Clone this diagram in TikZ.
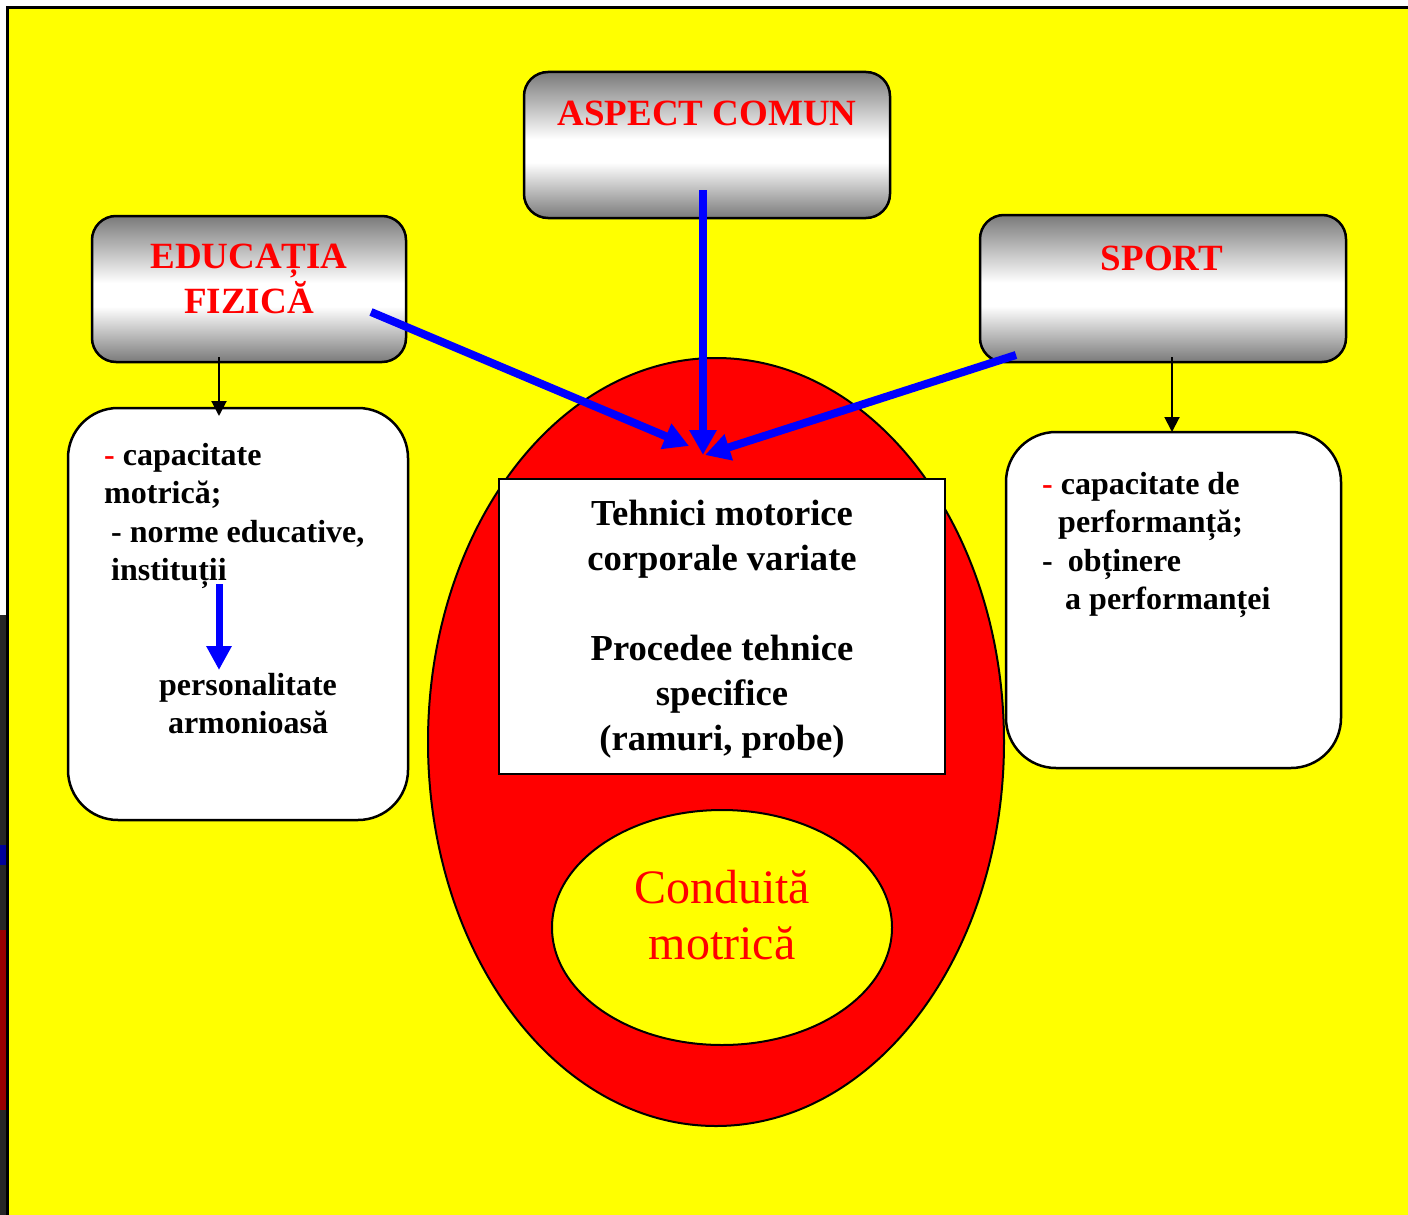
\documentclass[tikz,border=0pt]{standalone}
\usepackage{fontspec}
\setmainfont{Liberation Serif}
\usetikzlibrary{arrows.meta,shapes.geometric}
\definecolor{mgray}{RGB}{122,122,122}
\definecolor{bgyellow}{RGB}{255,255,0}
\pgfdeclareverticalshading{metal}{100bp}{color(0bp)=(mgray); color(25bp)=(mgray); color(44bp)=(white); color(52bp)=(white); color(75bp)=(mgray); color(100bp)=(mgray)}
\tikzset{
  metalbox/.style={draw, line width=2.5pt, rounded corners=24pt, shading=metal, inner sep=0pt},
  whitebox/.style={draw, line width=2.5pt, rounded corners=50pt, fill=white, inner sep=0pt},
  headtxt/.style={text=red, font=\fontsize{37}{45}\selectfont\bfseries, align=center, inner sep=0pt},
  bodytxt/.style={font=\fontsize{32}{38.5}\selectfont\bfseries, inner sep=0pt},
  centertxt/.style={font=\fontsize{36.6}{45}\selectfont\bfseries, align=center, inner sep=0pt},
  bluearrow/.style={draw=blue, line width=8pt, -{Triangle[length=25pt,width=26pt]}},
  smallblue/.style={draw=blue, line width=7pt, -{Triangle[length=24pt,width=24pt]}},
  blackarrow/.style={draw=black, line width=2pt, -{Triangle[length=15pt,width=15pt]}}
}
\begin{document}
\begin{tikzpicture}[x=1pt,y=-1pt]
\useasboundingbox (0,0) rectangle (1408,1215);
\fill[white] (0,0) rectangle (1408,1215);
% photo fragment at the left edge
\fill[black!85] (0,615) rectangle (6,1215);
\fill[red!60!black] (0,930) rectangle (6,1110);
\fill[blue!60!black] (0,845) rectangle (6,865);
% yellow slide
\fill[bgyellow] (8,8) rectangle (1408,1215);
\draw[line width=3pt] (7.5,1215) -- (7.5,7.5) -- (1408,7.5);

% central ellipses and box
\node[draw, ellipse, line width=2pt, fill=red, minimum width=576pt, minimum height=768pt, inner sep=0pt] (oval) at (716,742) {};
\node[draw, rectangle, line width=2.5pt, fill=white, minimum width=446pt, minimum height=295pt, inner sep=0pt] (tech) at (722,626.5) {};
\node[centertxt, anchor=north] (techtxt) at (722,500) {Tehnici motorice\\corporale variate\\ \mbox{}\\Procedee tehnice\\specifice\\(ramuri, probe)};
\node[draw, ellipse, line width=2pt, fill=bgyellow, minimum width=340pt, minimum height=235pt, inner sep=0pt] (inner) at (722,927.5) {};
\node[text=red, font=\fontsize{48}{56}\selectfont, align=center, inner sep=0pt, anchor=north] (cond) at (722,870) {Conduită\\motrică};

% grey header boxes
\node[metalbox, minimum width=366pt, minimum height=146pt] (aspect) at (707,145) {};
\node[headtxt, anchor=base] (aspecttxt) at (707,125) {ASPECT COMUN};
\node[metalbox, minimum width=314pt, minimum height=146pt] (educ) at (249,289) {};
\node[headtxt, anchor=north] (eductxt) at (249,244) {EDUCAȚIA\\FIZICĂ};
\node[metalbox, minimum width=366pt, minimum height=147pt] (sport) at (1163,288.5) {};
\node[headtxt, anchor=base] (sporttxt) at (1162,270) {SPORT};

% white side boxes
\node[whitebox, minimum width=340pt, minimum height=412pt] (leftbox) at (238,614) {};
\node[bodytxt, align=left, anchor=north west] (lefttxt) at (104,443) {{\color{red}-} capacitate\\motrică;\\\hspace*{7pt}- norme educative,\\\hspace*{7pt}instituții};
\node[bodytxt, align=center, anchor=north] (perstxt) at (248,673) {personalitate\\armonioasă};
\node[whitebox, minimum width=335pt, minimum height=336pt] (rightbox) at (1173.5,600) {};
\node[bodytxt, align=left, anchor=north west] (righttxt) at (1042,472) {{\color{red}-} capacitate de\\\hspace*{16pt}performanță;\\-\hspace*{15pt}obținere\\\hspace*{23pt}a performanței};

% connector end points
\coordinate (aspectout) at (703,190);
\coordinate (educout) at (371,312);
\coordinate (sportout) at (1016,355);
\coordinate (hitL) at (689,446);
\coordinate (hitC) at (703,455);
\coordinate (hitR) at (705,455);
\coordinate (educdown) at (219,357);
\coordinate (leftin) at (219,416);
\coordinate (sportdown) at (1172,357);
\coordinate (rightin) at (1172,432);
\coordinate (instout) at (219,584);
\coordinate (persin) at (219,670);

\draw[bluearrow] (aspectout) -- (hitC);
\draw[bluearrow] (educout) -- (hitL);
\draw[bluearrow] (sportout) -- (hitR);
\draw[blackarrow] (educdown) -- (leftin);
\draw[blackarrow] (sportdown) -- (rightin);
\draw[smallblue] (instout) -- (persin);
\end{tikzpicture}
\end{document}
